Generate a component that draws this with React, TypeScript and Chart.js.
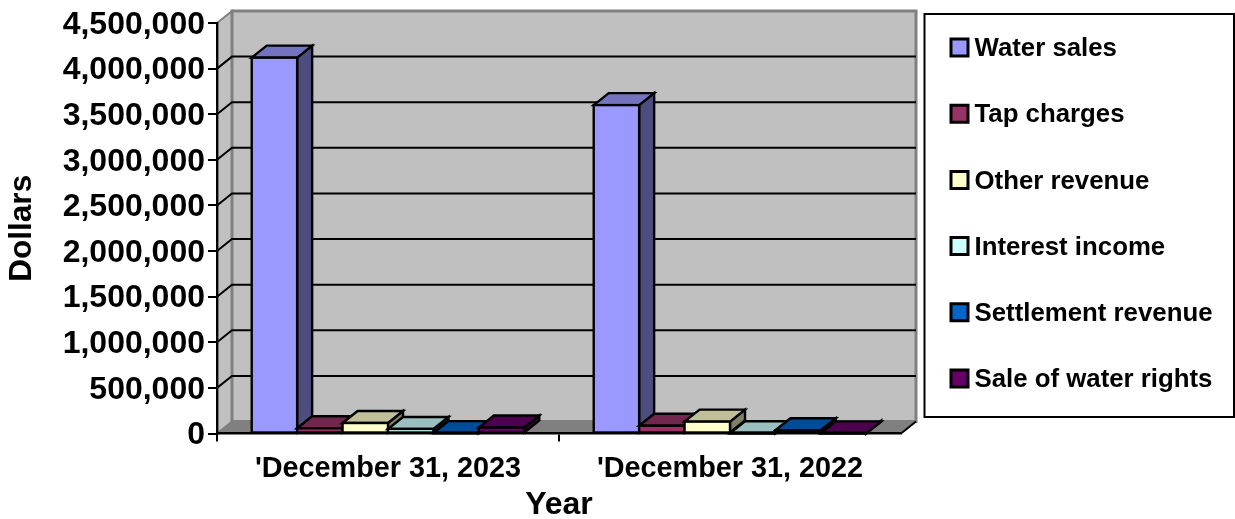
import React, { useEffect, useRef } from "react";
import { Chart, registerables } from "chart.js";

Chart.register(...registerables);

const categories = ["'December 31, 2023", "'December 31, 2022"];
const seriesNames = ["Water sales", "Tap charges", "Other revenue", "Interest income", "Settlement revenue", "Sale of water rights"];
const waterSales = [4120000, 3600000];
const tapCharges = [57000, 85000];
const otherRevenue = [115000, 130000];
const interestIncome = [50000, 2000];
const settlementRevenue = [4000, 35000];
const saleOfWaterRights = [65000, 1000];
const seriesValues = [waterSales, tapCharges, otherRevenue, interestIncome, settlementRevenue, saleOfWaterRights];
const frontColors = ["#9999FF", "#993366", "#FFFFCC", "#CCFFFF", "#0066CC", "#660066"];
const topColors = ["#7373BF", "#73264D", "#BFBF99", "#99BFBF", "#004C99", "#4D004D"];
const sideColors = ["#4D4D80", "#4D1A33", "#808066", "#668080", "#003366", "#330033"];

const FONT = '"Liberation Sans", Arial, sans-serif';
const DX = 15;
const DY = 12;

const poly = (ctx: CanvasRenderingContext2D, pts: number[][], fill: string, stroke?: string, lw = 2) => {
  ctx.beginPath();
  pts.forEach((p, i) => (i ? ctx.lineTo(p[0], p[1]) : ctx.moveTo(p[0], p[1])));
  ctx.closePath();
  ctx.fillStyle = fill;
  ctx.fill();
  if (stroke) {
    ctx.lineWidth = lw;
    ctx.strokeStyle = stroke;
    ctx.stroke();
  }
};

const wallsPlugin = {
  id: "walls",
  beforeDraw(chart: any) {
    const { ctx, chartArea: a, scales } = chart;
    const l = a.left, r = a.right, t = a.top, b = a.bottom;
    ctx.save();
    poly(ctx, [[l, t], [l + DX, t - DY], [l + DX, b - DY], [l, b]], "#C0C0C0", "#808080", 2);
    poly(ctx, [[l + DX, t - DY], [r + DX, t - DY], [r + DX, b - DY], [l + DX, b - DY]], "#C0C0C0", "#808080", 3);
    poly(ctx, [[l, b], [l + DX, b - DY], [r + DX, b - DY], [r, b]], "#808080");
    ctx.strokeStyle = "#000";
    ctx.lineWidth = 2;
    scales.y.ticks.forEach((tick: any) => {
      if (tick.value === 0 || tick.value === scales.y.max) return;
      const y = scales.y.getPixelForValue(tick.value);
      ctx.beginPath();
      ctx.moveTo(l, y);
      ctx.lineTo(l + DX, y - DY);
      ctx.lineTo(r + DX, y - DY);
      ctx.stroke();
    });
    ctx.beginPath();
    ctx.moveTo(r + DX, b - DY);
    ctx.lineTo(r, b);
    ctx.stroke();
    ctx.restore();
  },
};

// The bars overlap in depth, so they are painted left to right: first series first.
const depthPlugin = {
  id: "depth",
  beforeDatasetDraw() {
    return false;
  },
  afterDatasetsDraw(chart: any) {
    const { ctx, chartArea } = chart;
    ctx.save();
    ctx.lineJoin = "miter";
    chart.data.datasets.forEach((_: any, i: number) => {
      chart.getDatasetMeta(i).data.forEach((bar: any) => {
        const { x, y, base, width } = bar.getProps(["x", "y", "base", "width"], true);
        const l = x - width / 2;
        const r = x + width / 2;
        poly(ctx, [[r, y], [r + DX, y - DY], [r + DX, base - DY], [r, base]], sideColors[i], "#000", 2.4);
        poly(ctx, [[l, y], [l + DX, y - DY], [r + DX, y - DY], [r, y]], topColors[i], "#000", 2.4);
        bar.draw(ctx, chartArea);
        ctx.lineWidth = 2.4;
        ctx.strokeStyle = "#000";
        ctx.strokeRect(l, y, width, base - y);
      });
    });
    ctx.restore();
  },
};

const legendPlugin = {
  id: "sideLegend",
  afterDraw(chart: any) {
    const { ctx } = chart;
    ctx.save();
    ctx.lineWidth = 2;
    ctx.strokeStyle = "#000";
    ctx.fillStyle = "#fff";
    ctx.beginPath();
    ctx.rect(924.5, 14, 309.5, 403);
    ctx.fill();
    ctx.stroke();
    ctx.font = `bold 25.8px ${FONT}`;
    ctx.textBaseline = "middle";
    chart.data.datasets.forEach((ds: any, i: number) => {
      const cy = 48 + i * 66.2;
      ctx.fillStyle = ds.backgroundColor;
      ctx.lineWidth = 3;
      ctx.beginPath();
      ctx.rect(951, cy - 9, 17, 17);
      ctx.fill();
      ctx.stroke();
      ctx.fillStyle = "#000";
      ctx.fillText(ds.label, 974.5, cy + 1);
    });
    ctx.restore();
  },
};

export default function App() {
  const ref = useRef<HTMLCanvasElement>(null);
  useEffect(() => {
    const chart = new Chart(ref.current!, {
      type: "bar",
      data: {
        labels: categories,
        datasets: seriesNames.map((label, i) => ({
          label,
          data: seriesValues[i],
          backgroundColor: frontColors[i],
          borderWidth: 0,
          categoryPercentage: 0.797,
          barPercentage: 1,
        })),
      },
      options: {
        responsive: false,
        animation: false,
        devicePixelRatio: 1,
        layout: { autoPadding: false, padding: { top: 23, right: 334, left: 0, bottom: 0 } },
        plugins: { legend: { display: false }, tooltip: { enabled: false } },
        scales: {
          x: {
            afterFit: (s: any) => { s.height = 519 - 433.5; },
            grid: {
              offset: true,
              drawOnChartArea: false,
              tickLength: 8,
              lineWidth: 2,
              tickColor: (c: any) => (c.index === undefined ? "transparent" : "#000"),
            },
            border: { color: "#000", width: 2.4 },
            ticks: { color: "#000", padding: 10, maxRotation: 0, font: { family: FONT, weight: "bold", size: 28.8 } },
            title: {
              display: true,
              text: "Year",
              color: "#000",
              font: { family: FONT, weight: "bold", size: 32, lineHeight: 1 },
              padding: { top: 0, bottom: -2 },
            },
          },
          y: {
            min: 0,
            max: 4500000,
            afterFit: (s: any) => { s.width = 217; },
            grid: { drawOnChartArea: false, tickLength: 9, lineWidth: 2, color: "#000" },
            border: { color: "#000", width: 2.4 },
            ticks: { stepSize: 500000, color: "#000", padding: 3, labelOffset: 2, font: { family: FONT, weight: "bold", size: 32 } },
            title: {
              display: true,
              text: "Dollars",
              color: "#000",
              font: { family: FONT, weight: "bold", size: 31.5, lineHeight: 1 },
              padding: { top: 7, bottom: 0 },
            },
          },
        },
      },
      plugins: [wallsPlugin, depthPlugin, legendPlugin],
    } as any);
    return () => chart.destroy();
  }, []);
  return (
    <div style={{ position: "absolute", left: 0, top: 0, width: 1235, height: 519, background: "#fff" }}>
      <canvas ref={ref} width={1235} height={519} style={{ display: "block" }} />
    </div>
  );
}
